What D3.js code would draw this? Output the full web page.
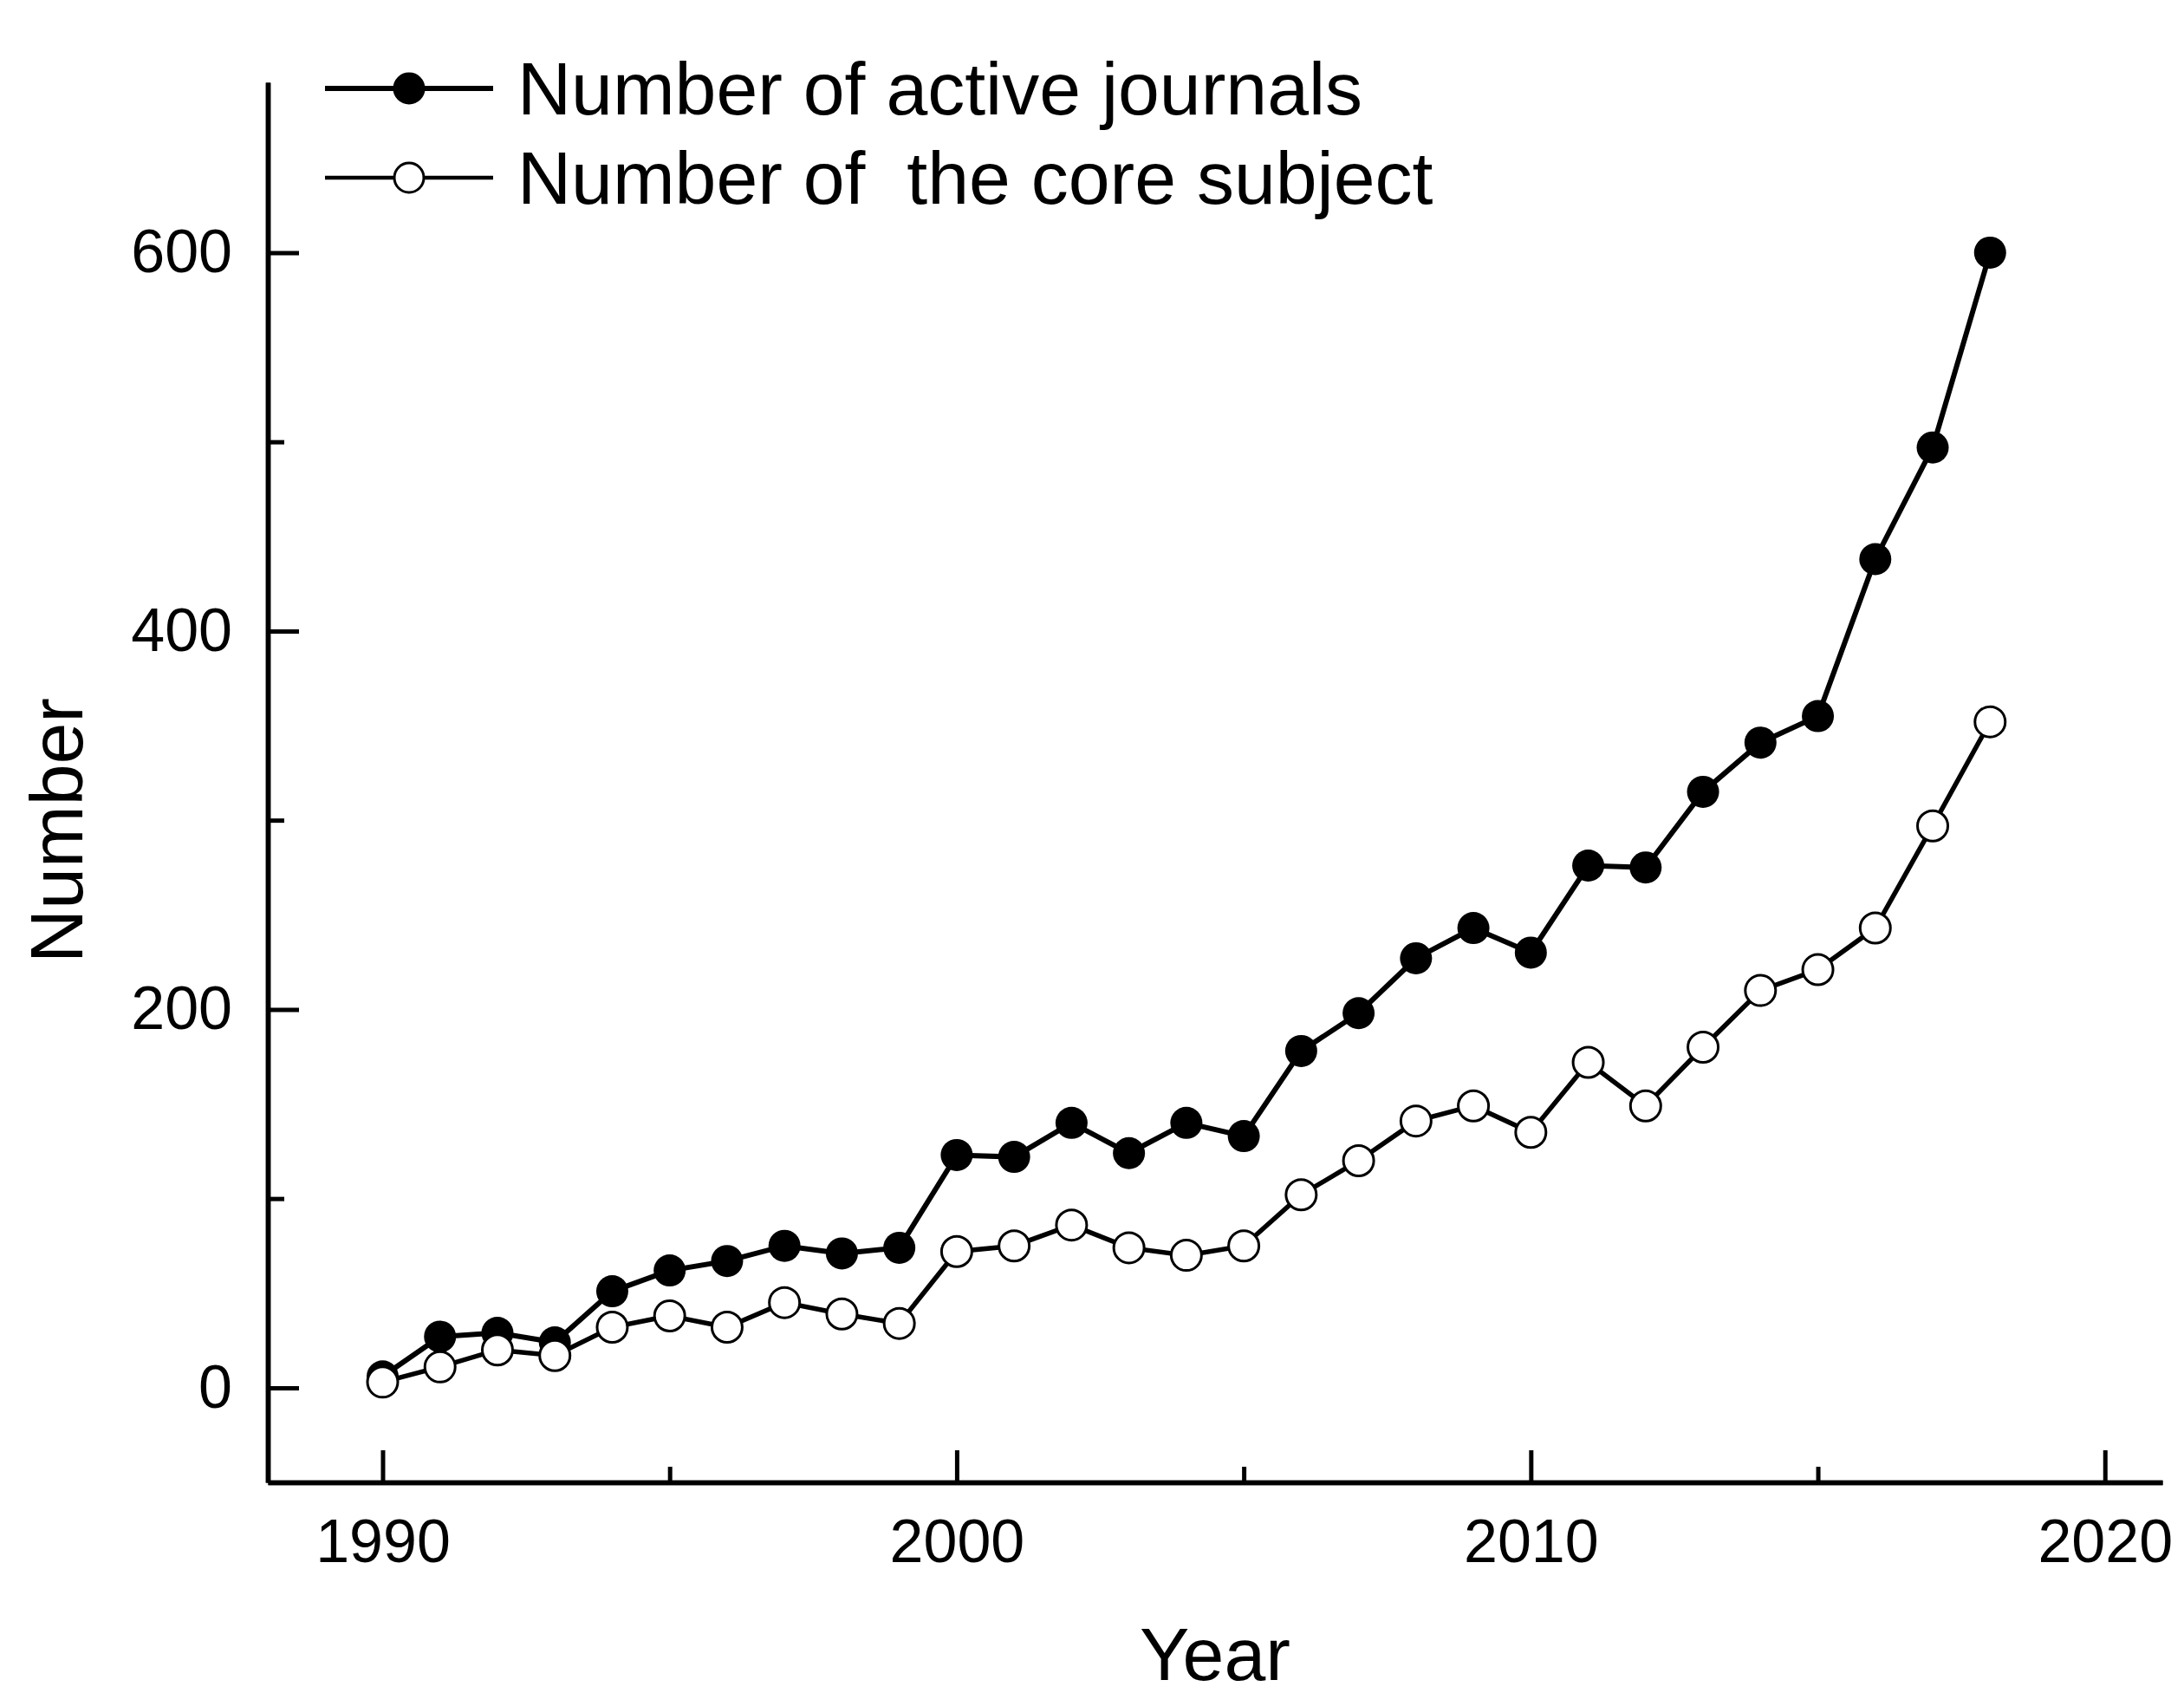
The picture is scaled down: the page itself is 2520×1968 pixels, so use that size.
<!DOCTYPE html>
<html>
<head>
<meta charset="utf-8">
<script src="https://cdn.jsdelivr.net/npm/d3@7"></script>
<style>
  body { margin: 0; background: #fff; }
  text { font-family: "Liberation Sans", Arial, sans-serif; fill: #000; }
</style>
</head>
<body>
<div id="chart"></div>
<script>
const width = 2520;
const height = 1968;
const margin = { top: 95, right: 25, bottom: 258, left: 309 };

// Data
const years = [1990, 1991, 1992, 1993, 1994, 1995, 1996, 1997, 1998, 1999,
  2000, 2001, 2002, 2003, 2004, 2005, 2006, 2007, 2008, 2009,
  2010, 2011, 2012, 2013, 2014, 2015, 2016, 2017, 2018];
const activeJournals = [6, 27, 29, 24, 51, 62, 67, 75, 71, 74,
  123, 122, 140, 124, 140, 133, 178, 198, 227, 243,
  230, 276, 275, 315, 341, 355, 438, 497, 600];
const coreSubject = [3, 11, 20, 17, 32, 38, 32, 45, 39, 34,
  72, 75, 86, 74, 70, 75, 102, 120, 141, 149,
  135, 172, 149, 180, 210, 221, 243, 297, 352];
const seriesNames = ["Number of active journals", "Number of  the core subject"];
const xMajorTicks = [1990, 2000, 2010, 2020];
const xMinorTicks = [1995, 2005, 2015];
const yMajorTicks = [0, 200, 400, 600];
const yMinorTicks = [100, 300, 500];

const svg = d3.select("#chart")
  .append("svg")
  .attr("width", width)
  .attr("height", height);

const x = d3.scaleLinear()
  .domain([1988, 2021])
  .range([margin.left, width - margin.right]);

const y = d3.scaleLinear()
  .domain([-50, 690])
  .range([height - margin.bottom, margin.top]);

// Axes (ticks point inward)
const gx = svg.append("g")
  .attr("transform", `translate(0,${height - margin.bottom})`);
gx.call(d3.axisBottom(x).tickValues(xMajorTicks).tickFormat(d3.format("d"))
  .tickSizeInner(-37).tickSizeOuter(0).tickPadding(42));
gx.append("g").call(d3.axisBottom(x).tickValues(xMinorTicks).tickFormat("")
  .tickSizeInner(-18).tickSizeOuter(0));
gx.selectAll("text").attr("font-size", "70px").attr("font-family", "Liberation Sans, Arial, sans-serif");

const gy = svg.append("g")
  .attr("transform", `translate(${margin.left},0)`);
gy.call(d3.axisLeft(y).tickValues(yMajorTicks)
  .tickSizeInner(-36).tickSizeOuter(0).tickPadding(41));
gy.append("g").call(d3.axisLeft(y).tickValues(yMinorTicks).tickFormat("")
  .tickSizeInner(-19).tickSizeOuter(0));
gy.selectAll("text").attr("font-size", "70px").attr("font-family", "Liberation Sans, Arial, sans-serif");

svg.selectAll(".domain").attr("stroke", "#000").attr("stroke-width", 5.5);
svg.selectAll(".tick line").attr("stroke", "#000").attr("stroke-width", 5);

// Axis titles
svg.append("text")
  .attr("x", (margin.left + width - margin.right) / 2)
  .attr("y", 1938)
  .attr("text-anchor", "middle")
  .attr("font-size", "86px")
  .text("Year");

svg.append("text")
  .attr("transform", "rotate(-90)")
  .attr("x", -958)
  .attr("y", 95)
  .attr("text-anchor", "middle")
  .attr("font-size", "86px")
  .text("Number");

// Lines and markers
const line = d3.line()
  .x((d, i) => x(years[i]))
  .y(d => y(d));

svg.append("path")
  .datum(coreSubject)
  .attr("fill", "none")
  .attr("stroke", "#000")
  .attr("stroke-width", 5.5)
  .attr("d", line);

svg.append("path")
  .datum(activeJournals)
  .attr("fill", "none")
  .attr("stroke", "#000")
  .attr("stroke-width", 6)
  .attr("d", line);

svg.append("g")
  .selectAll("circle")
  .data(activeJournals)
  .join("circle")
  .attr("cx", (d, i) => x(years[i]))
  .attr("cy", d => y(d))
  .attr("r", 18.5)
  .attr("fill", "#000");

svg.append("g")
  .selectAll("circle")
  .data(coreSubject)
  .join("circle")
  .attr("cx", (d, i) => x(years[i]))
  .attr("cy", d => y(d))
  .attr("r", 17.5)
  .attr("fill", "#fff")
  .attr("stroke", "#000")
  .attr("stroke-width", 3);

// Legend
const legend = svg.append("g");
[102, 205].forEach((ly, i) => {
  legend.append("line")
    .attr("x1", 375).attr("x2", 569)
    .attr("y1", ly).attr("y2", ly)
    .attr("stroke", "#000")
    .attr("stroke-width", i === 0 ? 6 : 4.5);
  legend.append("circle")
    .attr("cx", 472).attr("cy", ly)
    .attr("r", 17)
    .attr("fill", i === 0 ? "#000" : "#fff")
    .attr("stroke", "#000")
    .attr("stroke-width", 3);
  legend.append("text")
    .attr("x", 597)
    .attr("y", ly + 30)
    .attr("font-size", "86px")
    .style("white-space", "pre")
    .text(seriesNames[i]);
});
</script>
</body>
</html>
